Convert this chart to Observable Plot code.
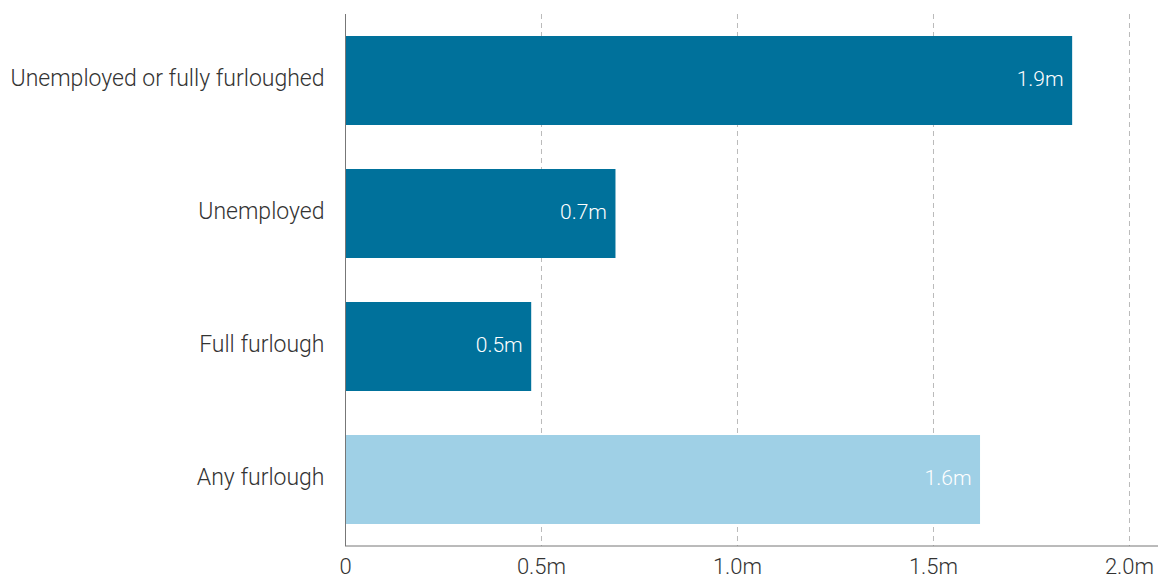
<!DOCTYPE html>
<html>
<head>
<meta charset="utf-8">
<script src="https://cdn.jsdelivr.net/npm/d3@7"></script>
<script src="https://cdn.jsdelivr.net/npm/@observablehq/plot@0.6"></script>
<style>
  html, body { margin: 0; padding: 0; background: #fff; }
  #chart { width: 1158px; height: 581px; overflow: hidden; }
  svg { font-family: Roboto, "Open Sans", sans-serif; }
</style>
</head>
<body>
<div id="chart"></div>
<script>
const categories = ["Unemployed or fully furloughed", "Unemployed", "Full furlough", "Any furlough"];
const values = [1.855, 0.69, 0.475, 1.62];
const labels = ["1.9m", "0.7m", "0.5m", "1.6m"];
const groups = ["dark", "dark", "dark", "light"];
const xTicks = [0, 0.5, 1.0, 1.5, 2.0];
const xTickLabels = ["0", "0.5m", "1.0m", "1.5m", "2.0m"];

const data = categories.map((c, i) => ({cat: c, value: values[i], label: labels[i], group: groups[i]}));

const chart = Plot.plot({
  width: 1158,
  height: 581,
  marginTop: 14,
  marginBottom: 35,
  marginLeft: 345,
  marginRight: 0,
  style: {fontFamily: "Roboto, sans-serif", fontWeight: 300},
  x: {domain: [0, 2.074], ticks: xTicks, tickFormat: d => xTickLabels[xTicks.indexOf(d)], label: null},
  y: {domain: categories, paddingInner: 0.33, paddingOuter: 0.165, label: null},
  color: {domain: ["dark", "light"], range: ["#00719b", "#9fd0e6"]},
  marks: [
    Plot.ruleX(xTicks.slice(1), {stroke: "#bbb", strokeDasharray: "5,4", strokeWidth: 1}),
    Plot.barX(data, {x: "value", y: "cat", fill: "group"}),
    Plot.text(data, {x: "value", y: "cat", text: "label", fill: "white", textAnchor: "end", dx: -9, dy: -2, fontSize: 21, fontWeight: 300}),
    Plot.ruleX([0], {stroke: "#777", strokeWidth: 1}),
    Plot.axisX({ticks: xTicks, tickFormat: d => xTickLabels[xTicks.indexOf(d)], tickSize: 0, tickPadding: 12, fontSize: 22, fill: "#333", label: null}),
    Plot.axisY({tickSize: 0, tickPadding: 21, dy: -2, fontSize: 23, fill: "#333", label: null})
  ]
});
document.getElementById("chart").appendChild(chart);

// bottom axis baseline
d3.select(chart).append("line")
  .attr("x1", 345).attr("x2", 1158)
  .attr("y1", 546).attr("y2", 546)
  .attr("stroke", "#777").attr("stroke-width", 1);
</script>
</body>
</html>
